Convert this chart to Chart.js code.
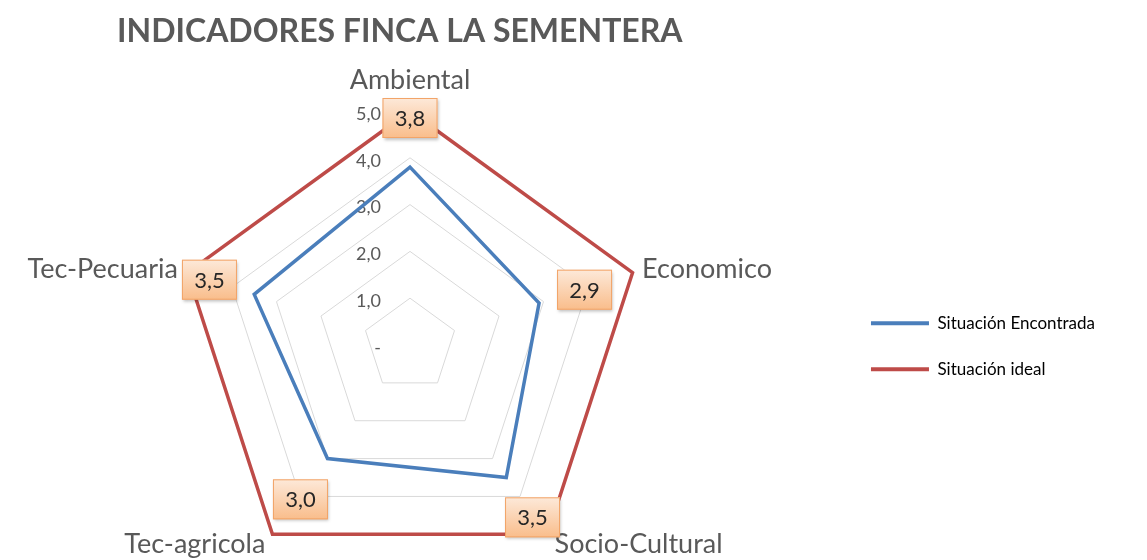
<!DOCTYPE html>
<html>
<head>
<meta charset="utf-8">
<script src="https://cdn.jsdelivr.net/npm/chart.js@4.4.1/dist/chart.umd.min.js"></script>
<style>
  html, body { margin: 0; padding: 0; background: #fff; }
  #wrap { width: 1147px; height: 560px; }
</style>
</head>
<body>
<div id="wrap"><canvas id="chart"></canvas></div>
<script>
const categories = ['Ambiental', 'Economico', 'Socio-Cultural', 'Tec-agricola', 'Tec-Pecuaria']
const encontrada = [3.8, 2.9, 3.5, 3.0, 3.5]
const ideal = [5, 5, 5, 5, 5]
const tickValues = [0, 1, 2, 3, 4, 5]
const tickLabels = ['-', '1,0', '2,0', '3,0', '4,0', '5,0']
const seriesNames = ['Situación Encontrada', 'Situación ideal']

// value boxes sit near the outer (ideal) vertex, nudged by these pixel offsets
const boxOffsets = [[0, 7], [-48, 17], [-15, -17], [28, -35], [22, 7]]
// extra distance of each category label beyond the outer ring
const labelPad = [31, 10, 12, 12, 10]

const FONT = 'Lato, "Open Sans", sans-serif'
const GREY = '#595959'
const fmt = v => v.toFixed(1).replace('.', ',')

const radarText = {
  id: 'radarText',
  beforeDatasetsDraw(chart) {
    const r = chart.scales.r
    const ctx = chart.ctx
    ctx.save()
    ctx.font = `18px ${FONT}`
    ctx.fillStyle = GREY
    ctx.textAlign = 'right'
    ctx.textBaseline = 'middle'
    tickValues.forEach((v, i) => {
      const y = r.yCenter - r.getDistanceFromCenterForValue(v)
      ctx.fillText(tickLabels[i], r.xCenter - 29, y + 3)
    })
    ctx.restore()
  },
  afterDatasetsDraw(chart) {
    const r = chart.scales.r
    const ctx = chart.ctx
    ctx.save()

    // category labels
    ctx.font = `27px ${FONT}`
    ctx.fillStyle = GREY
    ctx.textBaseline = 'middle'
    categories.forEach((c, i) => {
      const p = r.getPointPosition(i, r.drawingArea + labelPad[i])
      const dx = p.x - r.xCenter
      ctx.textAlign = Math.abs(dx) < 2 ? 'center' : (dx > 0 ? 'left' : 'right')
      ctx.fillText(c, p.x, p.y)
    })

    // value boxes for "Situación Encontrada"
    const outer = chart.getDatasetMeta(1).data
    const w = 55, h = 40
    encontrada.forEach((v, i) => {
      const cx = outer[i].x + boxOffsets[i][0]
      const cy = outer[i].y + boxOffsets[i][1]
      const x = cx - w / 2, y = cy - h / 2
      const g = ctx.createLinearGradient(0, y, 0, y + h)
      g.addColorStop(0, '#fde9d9')
      g.addColorStop(1, '#f9bd8b')
      ctx.save()
      ctx.shadowColor = 'rgba(0,0,0,0.25)'
      ctx.shadowBlur = 3
      ctx.shadowOffsetX = 1
      ctx.shadowOffsetY = 2
      ctx.fillStyle = g
      ctx.fillRect(x, y, w, h)
      ctx.restore()
      ctx.strokeStyle = '#f2a468'
      ctx.lineWidth = 1
      ctx.strokeRect(x + 0.5, y + 0.5, w - 1, h - 1)
      ctx.font = `22px ${FONT}`
      ctx.fillStyle = '#262626'
      ctx.textAlign = 'center'
      ctx.textBaseline = 'middle'
      ctx.fillText(fmt(v), cx, cy + 1)
    })
    ctx.restore()
  }
}

const ctx = document.getElementById('chart').getContext('2d')

new Chart(ctx, {
  type: 'radar',
  data: {
    labels: categories,
    datasets: [
      {
        label: seriesNames[0],
        data: encontrada,
        borderColor: '#4a7ebb',
        backgroundColor: '#4a7ebb',
        borderWidth: 3.5,
        fill: false,
        pointRadius: 0
      },
      {
        label: seriesNames[1],
        data: ideal,
        borderColor: '#be4b48',
        backgroundColor: '#be4b48',
        borderWidth: 3.5,
        fill: false,
        pointRadius: 0
      }
    ]
  },
  options: {
    responsive: true,
    maintainAspectRatio: false,
    animation: false,
    layout: { padding: { left: 117, right: 42 } },
    elements: { line: { tension: 0 } },
    scales: {
      r: {
        min: 0,
        max: 5,
        ticks: { stepSize: 1, display: false },
        grid: { color: '#d9d9d9', lineWidth: 1 },
        angleLines: { display: false },
        pointLabels: { display: false },
        // pin the web where the original sits
        afterFit: (scale) => {
          scale.xCenter = 410
          scale.yCenter = 345
          scale.drawingArea = 234
        }
      }
    },
    plugins: {
      title: {
        display: true,
        text: 'INDICADORES FINCA LA SEMENTERA',
        align: 'start',
        color: GREY,
        font: { family: FONT, size: 32, weight: 'bold' },
        padding: { top: 12, bottom: 82 }
      },
      legend: {
        position: 'right',
        fullSize: false,
        labels: {
          boxWidth: 58,
          boxHeight: 4,
          padding: 29,
          color: GREY,
          font: { family: FONT, size: 17 },
          generateLabels: (chart) => chart.data.datasets.map((ds, i) => ({
            text: ds.label,
            fillStyle: ds.borderColor,
            strokeStyle: ds.borderColor,
            lineWidth: 0,
            hidden: false,
            datasetIndex: i
          }))
        }
      },
      tooltip: { enabled: false }
    }
  },
  plugins: [radarText]
})
</script>
</body>
</html>
